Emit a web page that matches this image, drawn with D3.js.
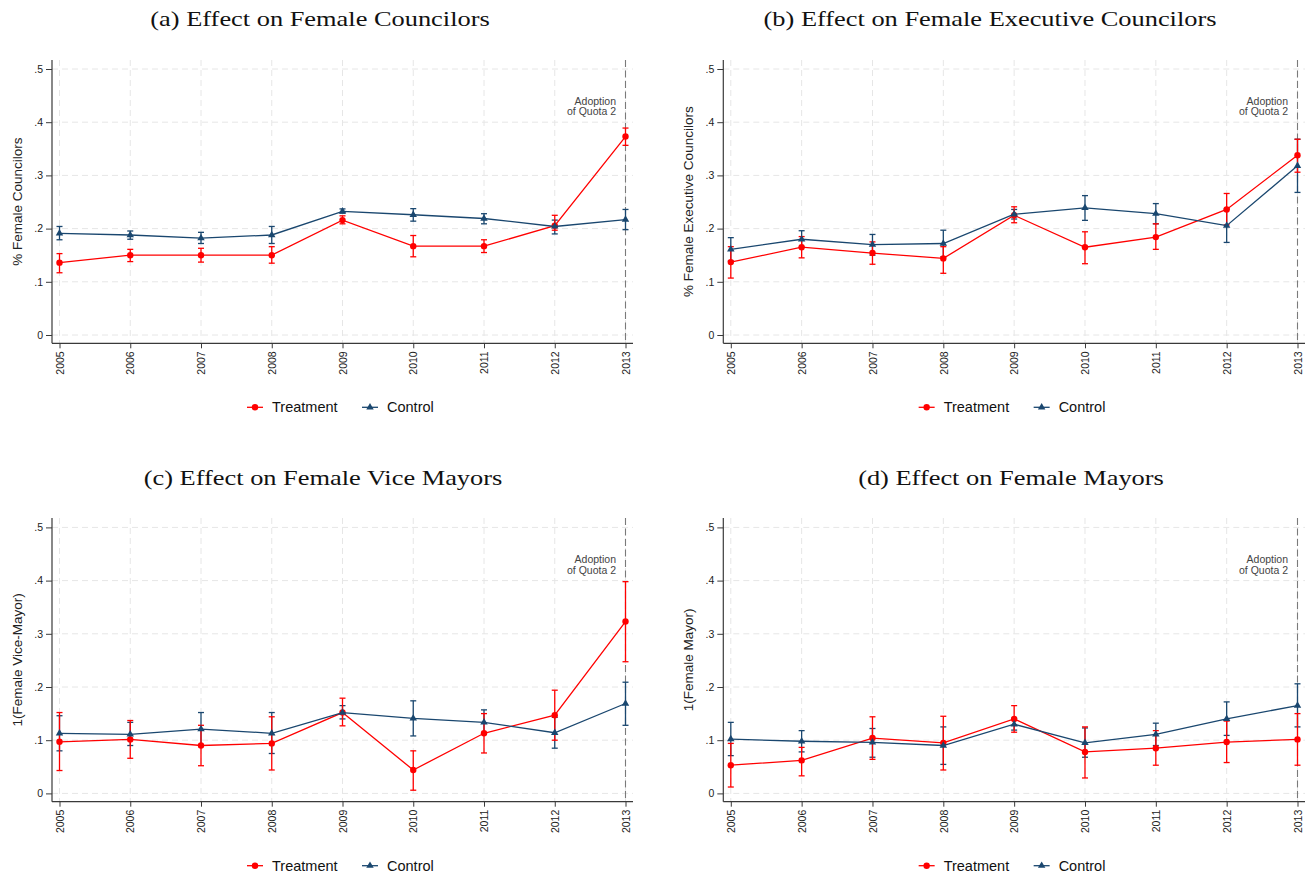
<!DOCTYPE html>
<html>
<head>
<meta charset="utf-8">
<script src="https://cdn.jsdelivr.net/npm/d3@7"></script>
<style>
  html, body { margin: 0; padding: 0; background: #fff; }
  svg { display: block; }
</style>
</head>
<body>
<svg id="chart" width="1311" height="877"></svg>
<script>
// Election years on the x axis
const years = [2005, 2006, 2007, 2008, 2009, 2010, 2011, 2012, 2013];
const yTickValues = [0, 0.1, 0.2, 0.3, 0.4, 0.5];
const yTickLabels = ["0", ".1", ".2", ".3", ".4", ".5"];
const quotaYear = 2013;
const seriesNames = ["Treatment", "Control"];

// (a) Female councilors: means and 95% CI bounds
const councilTreat   = [0.136, 0.150, 0.150, 0.150, 0.216, 0.167, 0.167, 0.2055, 0.373];
const councilTreatLo = [0.117, 0.138, 0.137, 0.135, 0.209, 0.147, 0.155, 0.197, 0.3565];
const councilTreatHi = [0.153, 0.161, 0.163, 0.166, 0.224, 0.187, 0.179, 0.225, 0.389];
const councilCtrl    = [0.191, 0.188, 0.182, 0.188, 0.2325, 0.226, 0.219, 0.204, 0.217];
const councilCtrlLo  = [0.179, 0.180, 0.172, 0.172, 0.229, 0.214, 0.209, 0.190, 0.198];
const councilCtrlHi  = [0.204, 0.1955, 0.193, 0.204, 0.237, 0.2375, 0.228, 0.216, 0.236];

// (b) Female executive councilors
const execTreat   = [0.137, 0.165, 0.154, 0.144, 0.225, 0.165, 0.184, 0.236, 0.338];
const execTreatLo = [0.107, 0.145, 0.133, 0.116, 0.211, 0.134, 0.161, 0.207, 0.306];
const execTreatHi = [0.166, 0.185, 0.175, 0.166, 0.241, 0.194, 0.209, 0.266, 0.368];
const execCtrl    = [0.161, 0.180, 0.170, 0.172, 0.227, 0.239, 0.228, 0.2055, 0.318];
const execCtrlLo  = [0.139, 0.165, 0.150, 0.147, 0.218, 0.2155, 0.209, 0.174, 0.268];
const execCtrlHi  = [0.183, 0.196, 0.189, 0.197, 0.236, 0.262, 0.247, 0.237, 0.368];

// (c) Female vice mayors
const viceTreat   = [0.097, 0.1015, 0.090, 0.094, 0.152, 0.044, 0.113, 0.147, 0.323];
const viceTreatLo = [0.043, 0.066, 0.052, 0.044, 0.127, 0.006, 0.076, 0.100, 0.2475];
const viceTreatHi = [0.152, 0.137, 0.128, 0.144, 0.179, 0.080, 0.150, 0.194, 0.398];
const viceCtrl    = [0.113, 0.111, 0.121, 0.113, 0.152, 0.141, 0.1335, 0.114, 0.169];
const viceCtrlLo  = [0.080, 0.090, 0.090, 0.075, 0.140, 0.108, 0.111, 0.085, 0.128];
const viceCtrlHi  = [0.146, 0.1335, 0.152, 0.152, 0.165, 0.174, 0.157, 0.143, 0.209];

// (d) Female mayors
const mayorTreat   = [0.053, 0.062, 0.104, 0.095, 0.140, 0.078, 0.085, 0.0965, 0.1015];
const mayorTreatLo = [0.012, 0.033, 0.064, 0.044, 0.115, 0.029, 0.053, 0.058, 0.053];
const mayorTreatHi = [0.094, 0.0865, 0.144, 0.145, 0.165, 0.125, 0.118, 0.136, 0.150];
const mayorCtrl    = [0.102, 0.098, 0.096, 0.090, 0.130, 0.095, 0.111, 0.140, 0.165];
const mayorCtrlLo  = [0.071, 0.078, 0.068, 0.0545, 0.119, 0.068, 0.090, 0.109, 0.125];
const mayorCtrlHi  = [0.1335, 0.118, 0.122, 0.125, 0.141, 0.123, 0.132, 0.172, 0.206];

const panelTitles = [
  "(a) Effect on Female Councilors",
  "(b) Effect on Female Executive Councilors",
  "(c) Effect on Female Vice Mayors",
  "(d) Effect on Female Mayors"
];
const yTitles = [
  "% Female Councilors",
  "% Female Executive Councilors",
  "1(Female Vice-Mayor)",
  "1(Female Mayor)"
];
const annotationLines = ["Adoption", "of Quota 2"];

const RED = "#ff0000";
const NAVY = "#1a476f";
const SANS = "'Liberation Sans', Arial, Helvetica, sans-serif";
const SERIF = "'Liberation Serif', 'Times New Roman', serif";

const panels = [
  { title: panelTitles[0], titleX: 320, titleY: 26, yTitle: yTitles[0],
    left: 52, right: 633, top: 60, bottom: 343.3,
    treat: [councilTreat, councilTreatLo, councilTreatHi],
    ctrl: [councilCtrl, councilCtrlLo, councilCtrlHi] },
  { title: panelTitles[1], titleX: 990, titleY: 26, yTitle: yTitles[1],
    left: 723.3, right: 1305, top: 60, bottom: 343.3,
    treat: [execTreat, execTreatLo, execTreatHi],
    ctrl: [execCtrl, execCtrlLo, execCtrlHi] },
  { title: panelTitles[2], titleX: 323, titleY: 485, yTitle: yTitles[2],
    left: 52, right: 633, top: 518, bottom: 801.7,
    treat: [viceTreat, viceTreatLo, viceTreatHi],
    ctrl: [viceCtrl, viceCtrlLo, viceCtrlHi] },
  { title: panelTitles[3], titleX: 1011, titleY: 485, yTitle: yTitles[3],
    left: 723.3, right: 1305, top: 518, bottom: 801.7,
    treat: [mayorTreat, mayorTreatLo, mayorTreatHi],
    ctrl: [mayorCtrl, mayorCtrlLo, mayorCtrlHi] }
];

const svg = d3.select("#chart");

function drawPanel(p) {
  const g = svg.append("g");
  const x = d3.scaleLinear().domain([years[0], years[years.length - 1]])
    .range([p.left + 7.5, p.right - 7.5]);
  const y = d3.scaleLinear().domain([0, 0.5])
    .range([p.bottom - 8.3, p.bottom - 274.3]);

  // title (slightly widened serif face)
  g.append("text")
    .attr("transform", `translate(${p.titleX},${p.titleY}) scale(1.2,1)`)
    .attr("text-anchor", "middle")
    .style("font-family", SERIF).style("font-size", "22px").style("fill", "#111")
    .text(p.title);

  // grid
  const grid = g.append("g");
  grid.selectAll("line.h").data(yTickValues).join("line")
    .attr("x1", p.left).attr("x2", p.right)
    .attr("y1", d => y(d)).attr("y2", d => y(d))
    .attr("stroke", "#e6e6e6").attr("stroke-width", 1).attr("stroke-dasharray", "6,4");
  grid.selectAll("line.v").data(years).join("line")
    .attr("x1", d => x(d)).attr("x2", d => x(d))
    .attr("y1", p.top).attr("y2", p.bottom)
    .attr("stroke", "#e6e6e6").attr("stroke-width", 1).attr("stroke-dasharray", "6,4");

  // quota reference line
  g.append("line")
    .attr("x1", x(quotaYear)).attr("x2", x(quotaYear))
    .attr("y1", p.top).attr("y2", p.bottom)
    .attr("stroke", "#7a7a7a").attr("stroke-width", 1.1).attr("stroke-dasharray", "7,3.5");
  annotationLines.forEach((t, i) => {
    g.append("text")
      .attr("x", x(quotaYear) - 9.5).attr("y", y(0.433) + i * 10.7)
      .attr("text-anchor", "end")
      .style("font-family", SANS).style("font-size", "10.5px").style("fill", "#444")
      .text(t);
  });

  // axes
  const yAxis = d3.axisLeft(y).tickValues(yTickValues)
    .tickFormat((d, i) => yTickLabels[i]).tickSize(6).tickPadding(3);
  const ya = g.append("g").attr("transform", `translate(${p.left},0)`).call(yAxis);
  ya.select(".domain").attr("d", `M0,${p.top}V${p.bottom}`);
  const xAxis = d3.axisBottom(x).tickValues(years).tickFormat(d3.format("d"))
    .tickSize(5).tickPadding(3);
  const xa = g.append("g").attr("transform", `translate(0,${p.bottom})`).call(xAxis);
  xa.select(".domain").attr("d", `M${p.left},0H${p.right}`);
  xa.selectAll(".tick text")
    .attr("transform", "rotate(-90)")
    .attr("text-anchor", "end")
    .attr("x", -8).attr("y", 0).attr("dy", "0.35em");
  [ya, xa].forEach(a => {
    a.select(".domain").attr("stroke", "#3a3a3a").attr("stroke-width", 1.2);
    a.selectAll(".tick line").attr("stroke", "#3a3a3a").attr("stroke-width", 1);
    a.selectAll(".tick text").style("font-family", SANS).style("font-size", "10.5px").style("fill", "#222");
  });

  // y-axis title
  g.append("text")
    .attr("transform", `translate(${p.left - 35},${(p.top + p.bottom) / 2}) rotate(-90)`)
    .attr("text-anchor", "middle").attr("dy", "0.35em")
    .style("font-family", SANS).style("font-size", "13.5px").style("fill", "#222")
    .text(p.yTitle);

  // confidence-interval caps
  const capW = 3;
  function drawCI(series, color) {
    const [, lo, hi] = series;
    const ci = g.append("g").attr("stroke", color).attr("stroke-width", 1.3).attr("fill", "none");
    years.forEach((yr, i) => {
      const cx = x(yr);
      ci.append("line").attr("x1", cx).attr("x2", cx).attr("y1", y(lo[i])).attr("y2", y(hi[i]));
      ci.append("line").attr("x1", cx - capW).attr("x2", cx + capW).attr("y1", y(lo[i])).attr("y2", y(lo[i]));
      ci.append("line").attr("x1", cx - capW).attr("x2", cx + capW).attr("y1", y(hi[i])).attr("y2", y(hi[i]));
    });
  }
  drawCI(p.ctrl, NAVY);
  drawCI(p.treat, RED);

  const line = d3.line().x((d, i) => x(years[i])).y(d => y(d));
  function drawSeries(series, color, marker) {
    const vals = series[0];
    g.append("path").datum(vals).attr("d", line)
      .attr("fill", "none").attr("stroke", color).attr("stroke-width", 1.3);
    if (marker === "circle") {
      g.selectAll(null).data(vals).join("circle")
        .attr("cx", (d, i) => x(years[i])).attr("cy", d => y(d))
        .attr("r", 3.2).attr("fill", color);
    } else {
      const tri = d3.symbol().type(d3.symbolTriangle).size(24);
      g.selectAll(null).data(vals).join("path")
        .attr("transform", (d, i) => `translate(${x(years[i])},${y(d)})`)
        .attr("d", tri).attr("fill", color);
    }
  }
  drawSeries(p.treat, RED, "circle");
  drawSeries(p.ctrl, NAVY, "triangle");

  // legend
  const cx = (p.left + p.right) / 2;
  const ly = p.bottom + 64;
  const lg = g.append("g");
  lg.append("line").attr("x1", cx - 95.5).attr("x2", cx - 79.5).attr("y1", ly).attr("y2", ly)
    .attr("stroke", RED).attr("stroke-width", 1.3);
  lg.append("circle").attr("cx", cx - 87.5).attr("cy", ly).attr("r", 3.2).attr("fill", RED);
  lg.append("text").attr("x", cx - 70.5).attr("y", ly).attr("dy", "0.35em")
    .style("font-family", SANS).style("font-size", "14.5px").style("fill", "#111")
    .text(seriesNames[0]);
  lg.append("line").attr("x1", cx + 19.5).attr("x2", cx + 35.5).attr("y1", ly).attr("y2", ly)
    .attr("stroke", NAVY).attr("stroke-width", 1.3);
  lg.append("path").attr("transform", `translate(${cx + 27.5},${ly})`)
    .attr("d", d3.symbol().type(d3.symbolTriangle).size(24)).attr("fill", NAVY);
  lg.append("text").attr("x", cx + 44.5).attr("y", ly).attr("dy", "0.35em")
    .style("font-family", SANS).style("font-size", "14.5px").style("fill", "#111")
    .text(seriesNames[1]);
}

panels.forEach(drawPanel);
</script>
</body>
</html>
